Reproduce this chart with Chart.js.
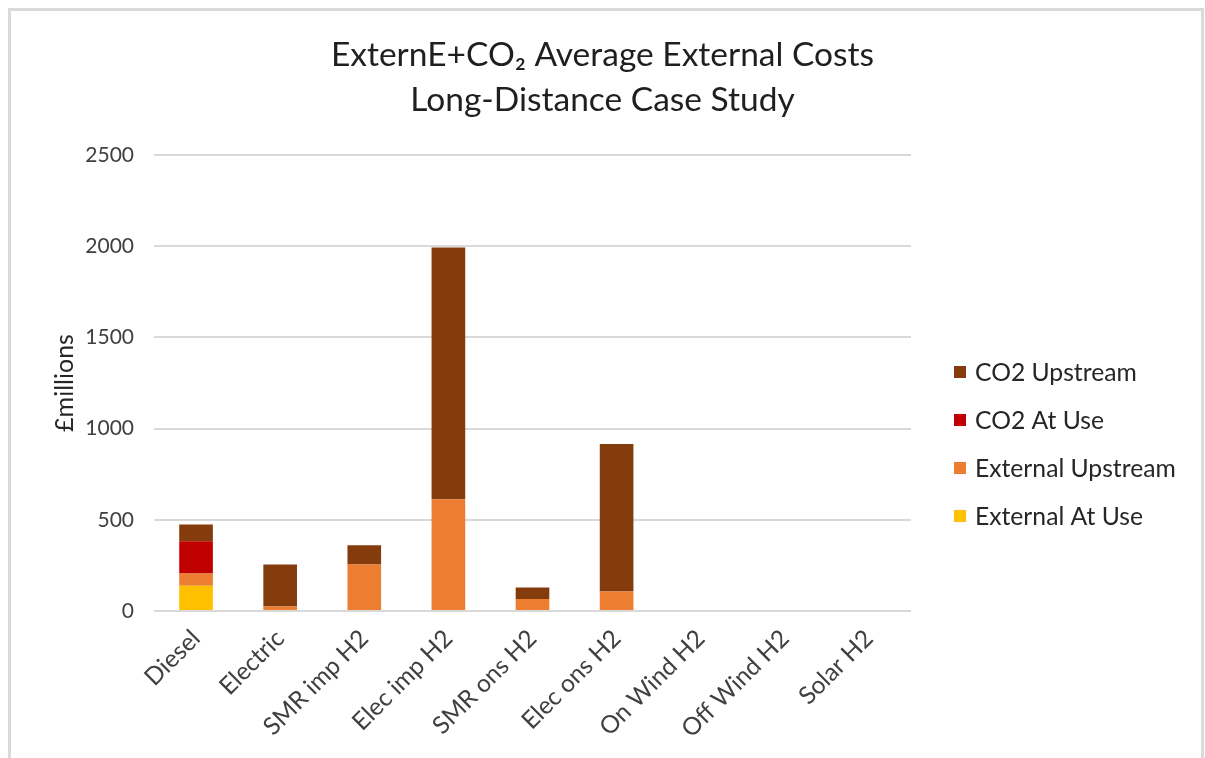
<!DOCTYPE html>
<html>
<head>
<meta charset="utf-8">
<title>ExternE+CO2 Average External Costs</title>
<script src="https://cdn.jsdelivr.net/npm/chart.js@4.4.1/dist/chart.umd.min.js"></script>
<style>
  html, body { margin: 0; padding: 0; background: #ffffff; overflow: hidden; }
  #frame {
    position: absolute; left: 8px; top: 8px; width: 1196px; height: 780px;
    box-sizing: border-box; border: 3px solid #dadada; border-bottom: none;
  }
  #wrap { position: absolute; left: 0; top: 0; width: 1205px; height: 758px; }
</style>
</head>
<body>
<div id="frame"></div>
<div id="wrap"><canvas id="chart" width="1205" height="758"></canvas></div>
<script>
// Vehicle / fuel pathways
const categories = ['Diesel', 'Electric', 'SMR imp H2', 'Elec imp H2', 'SMR ons H2',
                    'Elec ons H2', 'On Wind H2', 'Off Wind H2', 'Solar H2'];

// External costs, £ millions (stacked bottom to top)
const externalAtUse    = [139, 0, 0, 0, 0, 0, 0, 0, 0];
const externalUpstream = [67, 25, 255, 613, 66, 107, 0, 0, 0];
const co2AtUse         = [177, 0, 0, 0, 0, 0, 0, 0, 0];
const co2Upstream      = [91, 230, 106, 1380, 63, 808, 0, 0, 0];

const yTicks = [0, 500, 1000, 1500, 2000, 2500];

const FONT = 'Lato, "Open Sans", "DejaVu Sans", sans-serif';
const TEXT = '#404040';

// Legend drawn to the right of the plot, top entry = top of the stack
const sideLegend = {
  id: 'sideLegend',
  afterDraw(chart, args, opts) {
    const ctx = chart.ctx;
    const items = chart.data.datasets.slice().reverse();
    ctx.save();
    ctx.font = opts.fontSize + 'px ' + FONT;
    ctx.textBaseline = 'middle';
    ctx.textAlign = 'left';
    items.forEach((ds, i) => {
      const cy = opts.y + i * opts.step;
      ctx.fillStyle = ds.backgroundColor;
      ctx.fillRect(opts.x, cy - opts.box / 2, opts.box, opts.box);
      ctx.fillStyle = opts.color;
      ctx.fillText(ds.label, opts.x + opts.box + opts.gap, cy + 1);
    });
    ctx.restore();
  }
};

new Chart(document.getElementById('chart'), {
  type: 'bar',
  data: {
    labels: categories,
    datasets: [
      { label: 'External At Use',   data: externalAtUse,    backgroundColor: '#FFC000' },
      { label: 'External Upstream', data: externalUpstream, backgroundColor: '#ED7D31' },
      { label: 'CO2 At Use',        data: co2AtUse,         backgroundColor: '#C00000' },
      { label: 'CO2 Upstream',      data: co2Upstream,      backgroundColor: '#843C0C' }
    ]
  },
  plugins: [sideLegend],
  options: {
    responsive: false,
    animation: false,
    layout: { padding: 0 },
    datasets: { bar: { categoryPercentage: 1.0, barPercentage: 0.4, borderWidth: 0 } },
    plugins: {
      legend: { display: false },
      tooltip: { enabled: false },
      title: {
        display: true,
        text: ['ExternE+CO\u2082 Average External Costs', 'Long-Distance Case Study'],
        color: '#1f1f1f',
        font: { family: FONT, size: 33.5, weight: 'normal', lineHeight: 1.343 },
        padding: { top: 32.5, bottom: 32.5 }
      },
      sideLegend: { x: 954, y: 372, step: 48, box: 12, gap: 9, fontSize: 24.7, color: '#262626' }
    },
    scales: {
      x: {
        stacked: true,
        grid: { display: false, drawTicks: false },
        border: { display: false },
        ticks: {
          color: TEXT, font: { family: FONT, size: 24.5 },
          minRotation: 45, maxRotation: 45, padding: 13, autoSkip: false
        },
        afterFit(scale) { scale.height = 147; }
      },
      y: {
        stacked: true,
        min: 0, max: 2500,
        afterBuildTicks(scale) { scale.ticks = yTicks.map(v => ({ value: v })); },
        grid: { color: '#d9d9d9', lineWidth: 2, drawTicks: false },
        border: { display: false },
        ticks: {
          color: TEXT, font: { family: FONT, size: 21 }, padding: 20,
          callback: (v) => String(v)
        },
        title: {
          display: true, text: '£millions', color: '#262626',
          font: { family: FONT, size: 25 }, padding: { top: 50, bottom: 0 }
        },
        afterFit(scale) { scale.width = 154; }
      },
      // empty side column that keeps the plot clear of the legend
      legendSpace: {
        type: 'linear',
        position: 'right',
        display: true,
        grid: { display: false, drawTicks: false },
        border: { display: false },
        ticks: { display: false },
        afterFit(scale) { scale.width = 294; }
      }
    }
  }
});
</script>
</body>
</html>
